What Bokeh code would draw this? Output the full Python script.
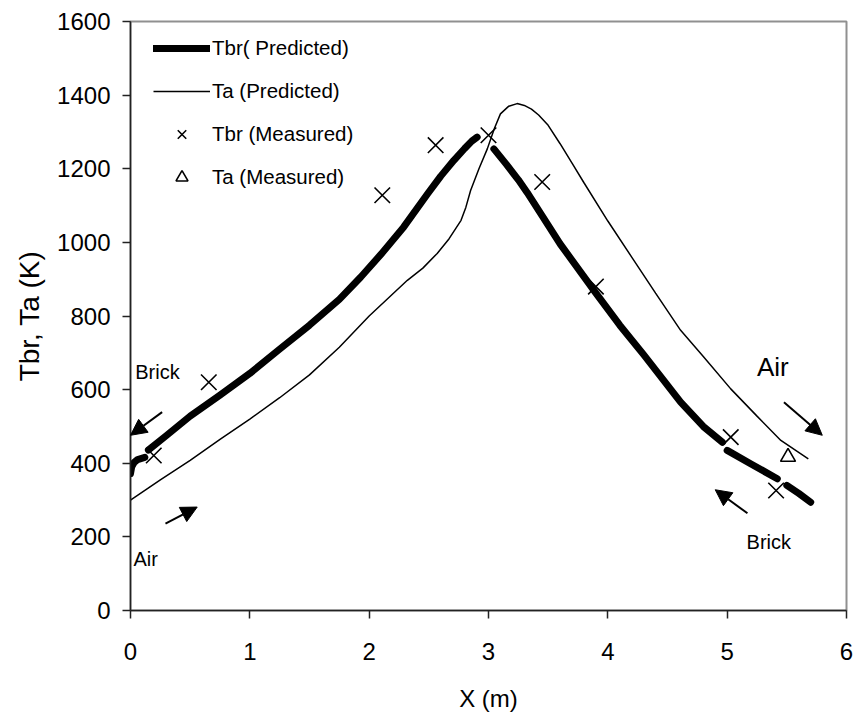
import numpy as np
from bokeh.plotting import figure
from bokeh.models import Legend, LegendItem, Arrow, NormalHead, Label, Range1d, FixedTicker
from bokeh.embed import file_html
from bokeh.resources import INLINE

nan = float("nan")

# Predicted brick temperature (breaks where the original line is interrupted)
x_tbr_pred = [0.0, 0.01, 0.03, 0.06, 0.12, nan, 0.15, 0.3, 0.5, 0.75, 1.0, 1.25, 1.5, 1.75,
              1.93, 2.1, 2.29, 2.49, 2.6, 2.71, 2.8, 2.86, 2.905, nan, 3.045, 3.15, 3.25,
              3.325, 3.45, 3.6, 3.9, 4.1, 4.3, 4.61, 4.8, 4.96, nan, 5.0, 5.2, 5.42, nan,
              5.5, 5.6, 5.7]
t_tbr_pred = [372, 390, 402, 410, 416, nan, 436, 475, 528, 585, 644, 710, 775, 845,
              906, 968, 1042, 1132, 1180, 1223, 1255, 1275, 1286, nan, 1254, 1212, 1170,
              1135, 1072, 996, 862, 775, 695, 566, 500, 457, nan, 435, 398, 358, nan,
              340, 318, 294]

# Predicted air temperature
x_ta_pred = [0.0, 0.25, 0.5, 0.75, 1.0, 1.25, 1.5, 1.75, 2.0, 2.32, 2.45, 2.57, 2.67, 2.77,
             2.81, 2.85, 2.92, 2.99, 3.05, 3.1, 3.17, 3.24, 3.3, 3.36, 3.42, 3.5, 3.6, 3.7,
             3.8, 4.0, 4.2, 4.4, 4.61, 4.8, 5.03, 5.25, 5.45, 5.68]
t_ta_pred = [300, 355, 408, 465, 520, 578, 640, 715, 800, 897, 930, 970, 1010, 1060,
             1095, 1141, 1200, 1254, 1310, 1349, 1370, 1377, 1372, 1362, 1346, 1318, 1268, 1215,
             1162, 1058, 960, 862, 761, 690, 602, 528, 462, 412]

# Measured values
x_tbr_meas = [0.195, 0.656, 2.11, 2.557, 3.0, 3.45, 3.9, 5.03, 5.41]
t_tbr_meas = [421, 620, 1128, 1264, 1291, 1164, 880, 471, 326]
x_ta_meas = [5.51]
t_ta_meas = [417]

x_ticks = [0, 1, 2, 3, 4, 5, 6]
y_ticks = [0, 200, 400, 600, 800, 1000, 1200, 1400, 1600]

FONT = "Liberation Sans"

p = figure(width=864, height=714, output_backend="svg", toolbar_location=None,
           x_range=Range1d(0, 6), y_range=Range1d(0, 1600),
           min_border_left=130, min_border_right=18, min_border_top=21, min_border_bottom=104)
p.background_fill_color = "white"
p.border_fill_color = "white"
p.outline_line_color = "#909090"
p.outline_line_width = 2
p.grid.visible = False

r_tbr = p.line(np.array(x_tbr_pred, dtype=float), np.array(t_tbr_pred, dtype=float),
               line_color="black", line_width=7, line_join="round", line_cap="round")
r_ta = p.line(x_ta_pred, t_ta_pred, line_color="black", line_width=1.5)
r_tbr_m = p.scatter(x_tbr_meas, t_tbr_meas, marker="x", size=22, line_color="black", line_width=1.6)
r_ta_m = p.scatter(x_ta_meas, t_ta_meas, marker="triangle", size=15, line_color="black",
                   fill_color="white", line_width=1.6)

for ax in (p.xaxis[0], p.yaxis[0]):
    ax.axis_line_color = "#222222"
    ax.axis_line_width = 1.5
    ax.major_tick_line_color = "#222222"
    ax.major_tick_line_width = 1.5
    ax.major_tick_in = 0
    ax.major_tick_out = 8
    ax.minor_tick_line_color = None
    ax.major_label_text_font = FONT
    ax.major_label_text_font_size = "24px"
    ax.major_label_text_color = "black"
    ax.axis_label_text_font = FONT
    ax.axis_label_text_font_style = "normal"
    ax.axis_label_text_color = "black"

p.xaxis.ticker = FixedTicker(ticks=x_ticks)
p.yaxis.ticker = FixedTicker(ticks=y_ticks)
p.xaxis.major_label_standoff = 24
p.yaxis.major_label_standoff = 12
p.xaxis.axis_label = "X (m)"
p.xaxis.axis_label_text_font_size = "24px"
p.xaxis.axis_label_standoff = 22
p.yaxis.axis_label = "Tbr, Ta (K)"
p.yaxis.axis_label_text_font_size = "28px"
p.yaxis.axis_label_standoff = 9

legend = Legend(items=[
    LegendItem(label="Tbr( Predicted)", renderers=[r_tbr]),
    LegendItem(label="Ta (Predicted)", renderers=[r_ta]),
    LegendItem(label="Tbr (Measured)", renderers=[r_tbr_m]),
    LegendItem(label="Ta (Measured)", renderers=[r_ta_m]),
], location=(23, 418), margin=0, padding=5, spacing=13, glyph_width=57, glyph_height=30,
    label_height=30, label_standoff=2, border_line_color=None, background_fill_alpha=0,
    label_text_font=FONT, label_text_font_size="20.5px", label_text_color="black")
p.add_layout(legend)

# Flow direction arrows and labels
arrows = [
    (0.265, 539, 0.0, 476),
    (0.293, 236, 0.559, 281),
    (5.476, 566, 5.797, 476),
    (5.17, 264, 4.90, 328),
]
for xs, ys, xe, ye in arrows:
    p.add_layout(Arrow(end=NormalHead(size=16, fill_color="black", line_color="black"),
                       x_start=xs, y_start=ys, x_end=xe, y_end=ye,
                       line_color="black", line_width=2))

labels = [
    (0.04, 647, "Brick", "20px"),
    (0.025, 140, "Air", "20px"),
    (5.25, 661, "Air", "26px"),
    (5.163, 186, "Brick", "20px"),
]
for lx, ly, txt, fs in labels:
    p.add_layout(Label(x=lx, y=ly, text=txt, text_font=FONT, text_font_size=fs,
                       text_baseline="middle", text_align="left", text_color="black"))

open("out.html", "w").write(file_html(p, INLINE))
